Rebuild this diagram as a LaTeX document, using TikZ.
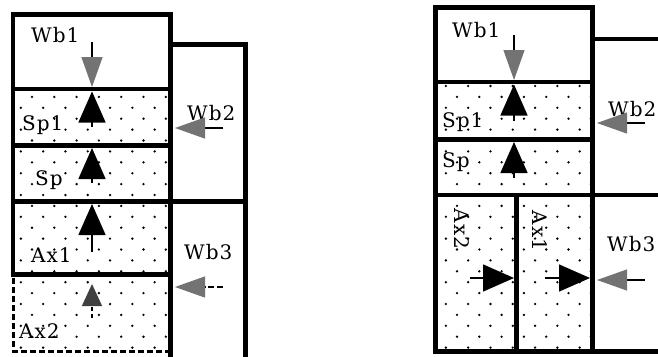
\documentclass[tikz,border=0pt]{standalone}
\usepackage{fontspec}
\newfontfamily\figfont[LetterSpace=5]{DejaVu Serif}
\usetikzlibrary{arrows.meta}

\begin{document}
\begin{tikzpicture}[
    x=1pt, y=-1pt,
    wall/.style={line width=4.5pt, line cap=rect},
    gap/.style={line width=3pt, dash pattern=on 6pt off 3pt},
    lbl/.style={font=\figfont\fontsize{20}{20}\selectfont, anchor=base west, inner sep=0pt},
    push/.style={-{Triangle[length=31pt,width=27pt]}, line width=1.5pt},
    ghost/.style={-{Triangle[length=22pt,width=20pt,color=black!75]}, line width=1.5pt, dash pattern=on 4pt off 3pt},
    load/.style={-{Triangle[length=30pt,width=21pt,color=black!55]}, line width=1.2pt},
    grain/.style={fill=black}
]
\useasboundingbox (0,0) rectangle (658,356);
\clip (0,0) rectangle (658,356);

% dotted fill
\begin{scope}
  \clip (13,89) rectangle (171,352);
  \foreach \j in {0,...,25}
    \foreach \i in {0,...,7}
      \fill[grain] ({9.7+22.3*\i+11.15*(1-mod(\j,2))}, {86+10.9*\j}) circle (1.3);
\end{scope}
\begin{scope}
  \clip (436,82) rectangle (593,352);
  \foreach \j in {0,...,25}
    \foreach \i in {0,...,7}
      \fill[grain] ({434.7+22.3*\i+11.15*(1-mod(\j,2))}, {86+10.9*\j}) circle (1.3);
\end{scope}

% left frame
\draw[wall] (13,14.5) rectangle (170.5,274.5);
\draw[wall] (13,89) -- (170.5,89);
\draw[wall] (13,145.5) -- (170.5,145.5);
\draw[wall] (13,201.5) -- (245.5,201.5);
\draw[wall] (170.5,44.5) -- (245.5,44.5) -- (245.5,362);
\draw[wall] (170.5,274.5) -- (170.5,362);
\draw[gap] (170.5,351.5) -- (13,351.5) -- (13,274.5);

% right frame
\draw[wall] (435.5,7.5) rectangle (592.5,351.5);
\draw[wall] (435.5,82) -- (592.5,82);
\draw[wall] (435.5,139.5) -- (592.5,139.5);
\draw[wall] (435.5,195) -- (680,195);
\draw[wall] (516.5,195) -- (516.5,351.5);
\draw[wall] (592.5,39) -- (680,39);
\draw[wall] (592.5,351.5) -- (680,351.5);

% labels
\node[lbl] (lwb1) at (31,42) {Wb1};
\node[lbl] (lsp1) at (22,130) {Sp1};
\node[lbl] (lsp) at (35,185) {Sp};
\node[lbl] (lax1) at (31,262) {Ax1};
\node[lbl] (lax2) at (19,338) {Ax2};
\node[lbl] (lwb2) at (187,120) {Wb2};
\node[lbl] (lwb3) at (184,259) {Wb3};

\node[lbl] (rwb1) at (452,37) {Wb1};
\node[lbl] (rsp1) at (442,127) {Sp1};
\node[lbl] (rsp) at (442,167) {Sp};
\node[lbl] (rwb2) at (608,116) {Wb2};
\node[lbl] (rwb3) at (607,251) {Wb3};
\node[lbl, anchor=center, rotate=-90] (rax2) at (462,229) {Ax2};
\node[lbl, anchor=center, rotate=-90] (rax1) at (540,231) {Ax1};

% arrow ends
\coordinate (lwb1a) at (92,42);   \coordinate (lwb1b) at (92,87);
\coordinate (lsp1a) at (92,127);  \coordinate (lsp1b) at (92,91.5);
\coordinate (lspa) at (92,183);   \coordinate (lspb) at (92,148);
\coordinate (lax1a) at (92,252);  \coordinate (lax1b) at (92,204);
\coordinate (lax2a) at (92,318);  \coordinate (lax2b) at (92,284);
\coordinate (lwb2a) at (223,128); \coordinate (lwb2b) at (175,128);
\coordinate (lwb3a) at (223,287); \coordinate (lwb3b) at (175,287);

\coordinate (rwb1a) at (514,35);  \coordinate (rwb1b) at (514,80);
\coordinate (rsp1a) at (514,121); \coordinate (rsp1b) at (514,84.5);
\coordinate (rspa) at (514,178);  \coordinate (rspb) at (514,142);
\coordinate (rax2a) at (470,278); \coordinate (rax2b) at (514,278);
\coordinate (rax1a) at (545,278); \coordinate (rax1b) at (590,278);
\coordinate (rwb2a) at (645,123); \coordinate (rwb2b) at (597,123);
\coordinate (rwb3a) at (645,280); \coordinate (rwb3b) at (597,280);

% loads
\draw[load] (lwb1a) -- (lwb1b);
\draw[load] (lwb2a) -- (lwb2b);
\draw[load, dash pattern=on 6pt off 3pt] (lwb3a) -- (lwb3b);
\draw[load] (rwb1a) -- (rwb1b);
\draw[load] (rwb2a) -- (rwb2b);
\draw[load] (rwb3a) -- (rwb3b);

% reactions
\draw[push] (lsp1a) -- (lsp1b);
\draw[push] (lspa) -- (lspb);
\draw[push] (lax1a) -- (lax1b);
\draw[ghost] (lax2a) -- (lax2b);
\draw[push] (rsp1a) -- (rsp1b);
\draw[push] (rspa) -- (rspb);
\draw[push] (rax2a) -- (rax2b);
\draw[push] (rax1a) -- (rax1b);

\end{tikzpicture}
\end{document}
